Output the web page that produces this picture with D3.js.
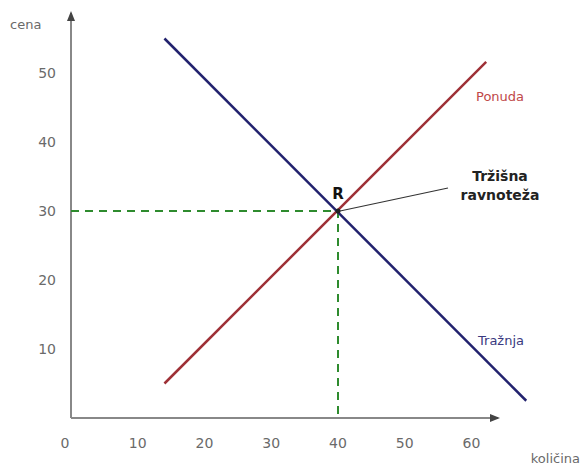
<!DOCTYPE html>
<html lang="en">
<head>
<meta charset="utf-8">
<script src="https://d3js.org/d3.v7.min.js"></script>
<title>Tržišna ravnoteža</title>
<style>
  body { margin: 0; background: #fff; }
  text { font-family: "DejaVu Sans", Verdana, sans-serif; }
</style>
</head>
<body>
<svg width="582" height="465"></svg>
<script>
// data
var xTicks = [0, 10, 20, 30, 40, 50, 60];
var yTicks = [10, 20, 30, 40, 50];
var ponuda = [[14, 5], [62.2, 51.6]];    // supply
var traznja = [[14, 55], [68.2, 2.5]];   // demand
var ravnoteza = [40, 30];                 // equilibrium R

var svg = d3.select("svg");

var x = d3.scaleLinear().domain([0, 40]).range([71, 338]);
var y = d3.scaleLinear().domain([0, 30]).range([418, 211]);

var line = d3.line()
  .x(function(d) { return x(d[0]); })
  .y(function(d) { return y(d[1]); });

svg.append("defs").append("marker")
    .attr("id", "arrow")
    .attr("viewBox", "0 0 10 10")
    .attr("refX", 8).attr("refY", 5)
    .attr("markerWidth", 5).attr("markerHeight", 5)
    .attr("orient", "auto")
  .append("path")
    .attr("d", "M0,1L10,5L0,9Z")
    .attr("fill", "#444");

// axes
svg.append("line")
    .attr("x1", x(0)).attr("y1", y(0))
    .attr("x2", x(0)).attr("y2", 13)
    .attr("stroke", "#888").attr("stroke-width", 2)
    .attr("marker-end", "url(#arrow)");

svg.append("line")
    .attr("x1", x(0)).attr("y1", y(0))
    .attr("x2", 498).attr("y2", y(0))
    .attr("stroke", "#888").attr("stroke-width", 2)
    .attr("marker-end", "url(#arrow)");

svg.selectAll(".xt")
  .data(xTicks)
  .enter().append("text")
    .attr("class", "xt")
    .attr("x", function(d) { return d === 0 ? x(d) - 6 : x(d); })
    .attr("y", 448)
    .attr("text-anchor", "middle")
    .attr("fill", "#6a6a6a")
    .style("font-size", "14px")
    .text(function(d) { return d; });

svg.selectAll(".yt")
  .data(yTicks)
  .enter().append("text")
    .attr("class", "yt")
    .attr("x", 56)
    .attr("y", function(d) { return y(d); })
    .attr("dy", "0.35em")
    .attr("text-anchor", "end")
    .attr("fill", "#6a6a6a")
    .style("font-size", "14px")
    .text(function(d) { return d; });

svg.append("text")
    .attr("x", 10).attr("y", 29)
    .attr("fill", "#6a6a6a")
    .style("font-size", "13px")
    .text("cena");

svg.append("text")
    .attr("x", 580).attr("y", 463)
    .attr("text-anchor", "end")
    .attr("fill", "#6a6a6a")
    .style("font-size", "13px")
    .text("količina");

// dashed guides to equilibrium
svg.append("path")
    .attr("d", line([[0, ravnoteza[1]], ravnoteza, [ravnoteza[0], 0]]))
    .attr("fill", "none")
    .attr("stroke", "#2e8b2e")
    .attr("stroke-width", 2)
    .attr("stroke-dasharray", "8,6");

// curves
svg.append("path")
    .attr("d", line(ponuda))
    .attr("fill", "none")
    .attr("stroke", "#9e3036")
    .attr("stroke-width", 2.5);

svg.append("path")
    .attr("d", line(traznja))
    .attr("fill", "none")
    .attr("stroke", "#22226e")
    .attr("stroke-width", 2.5);

svg.append("text")
    .attr("x", 476).attr("y", 101)
    .attr("fill", "#c04848")
    .style("font-size", "13px")
    .text("Ponuda");

svg.append("text")
    .attr("x", 478).attr("y", 345)
    .attr("fill", "#3a3a80")
    .style("font-size", "13px")
    .text("Tražnja");

svg.append("text")
    .attr("x", x(ravnoteza[0])).attr("y", 199)
    .attr("text-anchor", "middle")
    .attr("fill", "#111")
    .style("font-size", "15px")
    .style("font-weight", "bold")
    .text("R");

// leader to label
svg.append("line")
    .attr("x1", x(ravnoteza[0]) + 2).attr("y1", y(ravnoteza[1]))
    .attr("x2", 448).attr("y2", 188)
    .attr("stroke", "#333").attr("stroke-width", 1.2);

var lbl = svg.append("text")
    .attr("x", 500).attr("y", 181)
    .attr("text-anchor", "middle")
    .attr("fill", "#222")
    .style("font-size", "14px")
    .style("font-weight", "bold");
lbl.append("tspan").attr("x", 500).text("Tržišna");
lbl.append("tspan").attr("x", 500).attr("dy", 19).text("ravnoteža");

svg.append("circle")
    .attr("cx", x(ravnoteza[0])).attr("cy", y(ravnoteza[1]))
    .attr("r", 2.5)
    .attr("fill", "#222");
</script>
</body>
</html>
